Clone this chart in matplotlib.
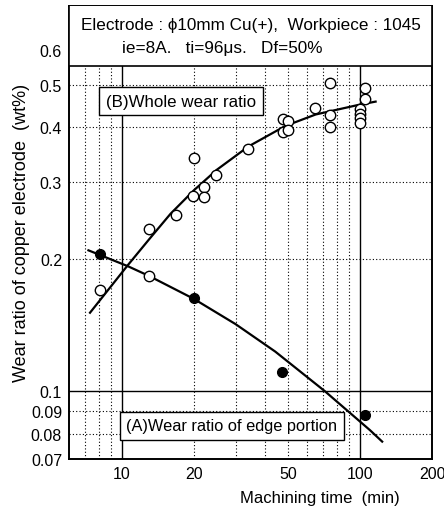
import matplotlib.pyplot as plt
from matplotlib.patches import Rectangle

plt.rcParams['font.family'] = ['Liberation Sans', 'DejaVu Sans']

# open circles: whole wear ratio (B)
b_time = [8.1, 13.0, 13.0, 16.9, 19.8, 20.0, 22.0, 22.0, 24.8, 33.8, 47.3, 47.3,
          50.0, 50.0, 64.7, 74.8, 74.8, 74.8, 99.6, 99.6, 99.6, 99.6, 105, 105]
b_wear = [0.170, 0.183, 0.234, 0.253, 0.279, 0.340, 0.293, 0.277, 0.311, 0.357, 0.417, 0.391,
          0.414, 0.394, 0.444, 0.504, 0.426, 0.401, 0.44, 0.43, 0.42, 0.41, 0.493, 0.465]
# filled circles: wear ratio of edge portion (A)
a_time = [8.1, 20.0, 47.0, 105]
a_wear = [0.206, 0.163, 0.1106, 0.088]

# hand-drawn trend curves
curve_b_t = [7.35, 10.6, 13, 16, 20, 25, 34, 48.5, 65, 98, 116]
curve_b_w = [0.151, 0.194, 0.222, 0.254, 0.287, 0.320, 0.362, 0.403, 0.428, 0.450, 0.458]
curve_a_t = [7.24, 10.6, 13, 20, 30, 44, 71, 110, 123.6]
curve_a_w = [0.2096, 0.1928, 0.1832, 0.1625, 0.1422, 0.1231, 0.1000, 0.0814, 0.0767]

xticks = [10, 20, 50, 100, 200]
yticks = [0.07, 0.08, 0.09, 0.1, 0.2, 0.3, 0.4, 0.5, 0.6]
ytick_labels = ['0.07', '0.08', '0.09', '0.1', '0.2', '0.3', '0.4', '0.5', '0.6']
x_dotted = [7, 8, 9, 20, 30, 40, 50, 60, 70, 80, 90]
x_solid = [10, 100]
y_dotted = [0.08, 0.09, 0.2, 0.3, 0.4, 0.5]
y_solid = [0.1]

fig = plt.figure(figsize=(4.44, 5.10), dpi=100)
ax = fig.add_axes([69/444, 1-460/510, (432-69)/444, (460-7)/510])
ax.set_xscale('log')
ax.set_yscale('log')
ax.set_xlim(6.0, 197)
ax.set_ylim(0.0700, 0.757)

dot = (0, (1, 2))
for x in x_dotted:
    ax.axvline(x, color='black', ls=dot, lw=0.8, zorder=1)
for x in x_solid:
    ax.axvline(x, color='black', lw=1.0, zorder=1)
for y in y_dotted:
    ax.axhline(y, color='black', ls=dot, lw=0.8, zorder=1)
for y in y_solid:
    ax.axhline(y, color='black', lw=1.0, zorder=1)

ax.plot(curve_b_t, curve_b_w, color='black', lw=1.6, zorder=3)
ax.plot(curve_a_t, curve_a_w, color='black', lw=1.6, zorder=3)
ax.plot(b_time, b_wear, 'o', ms=7.5, mfc='white', mec='black', mew=1.0, zorder=4)
ax.plot(a_time, a_wear, 'o', ms=7, mfc='black', mec='black', zorder=4)

ax.set_xticks(xticks)
ax.set_xticklabels([str(t) for t in xticks])
ax.set_yticks(yticks)
ax.set_yticklabels(ytick_labels)
ax.minorticks_off()
ax.tick_params(length=0, labelsize=11.5, pad=5)
for s in ax.spines.values():
    s.set_linewidth(1.4)

# title box at top of axes
ax.add_patch(Rectangle((0, 0.553), 1, 1, transform=ax.get_yaxis_transform(),
                       facecolor='white', edgecolor='black', lw=1.2, zorder=5))
ax.text(0.5, 1-(25-7)/453, 'Electrode : \u03d510mm Cu(+),  Workpiece : 1045',
        transform=ax.transAxes, ha='center', va='center', fontsize=12.3, zorder=6)
ax.text((122-69)/363, 1-(48-7)/453, 'ie=8A.   ti=96\u03bcs.   Df=50%',
        transform=ax.transAxes, ha='left', va='center', fontsize=12.3, zorder=6)

box = dict(boxstyle='square,pad=0.4', facecolor='white', edgecolor='black', lw=1.0)
ax.text((181-69)/363, 1-(102-7)/453, '(B)Whole wear ratio', transform=ax.transAxes,
        ha='center', va='center', fontsize=12.2, bbox=box, zorder=6)
ax.text((232-69)/363, 1-(427-7)/453, '(A)Wear ratio of edge portion', transform=ax.transAxes,
        ha='center', va='center', fontsize=11.8, bbox=box, zorder=6)

fig.text(22/444, 1-233/510, 'Wear ratio of copper electrode  (wt%)', rotation=90,
         ha='center', va='center', fontsize=13)
fig.text(320/444, 1-499/510, 'Machining time  (min)', ha='center', va='center', fontsize=12)

fig.savefig('out.png', dpi=100)
